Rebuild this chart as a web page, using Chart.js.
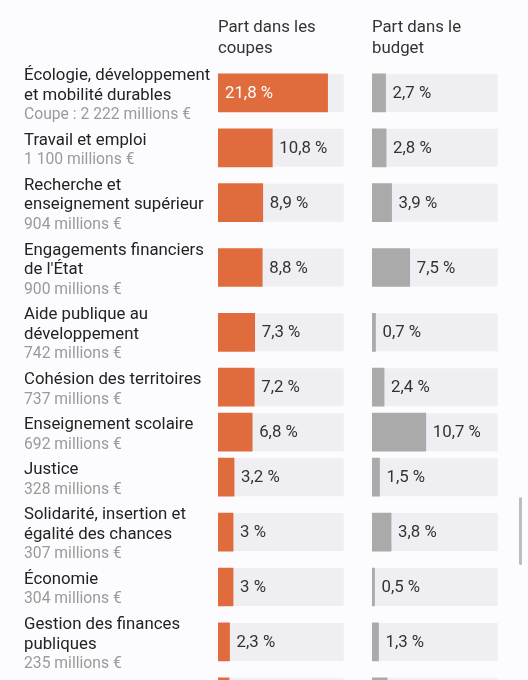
<!DOCTYPE html>
<html><head><meta charset="utf-8">
<script src="https://cdn.jsdelivr.net/npm/chart.js@4.4.1/dist/chart.umd.min.js"></script>
<style>
html,body{margin:0;padding:0;background:#fcfcfe;overflow:hidden;}
#wrap{position:relative;width:528px;height:680px;}
canvas{position:absolute;left:0;top:0;}
#sb{position:absolute;left:519px;top:497px;width:3px;height:68px;background:#bdbdbd;border-radius:2px;}
</style></head><body>
<div id="wrap"><canvas id="c1" width="528" height="680"></canvas><canvas id="c2" width="528" height="680"></canvas><div id="sb"></div></div>
<script>
const categories = [
  "Écologie, développement\net mobilité durables",
  "Travail et emploi",
  "Recherche et\nenseignement supérieur",
  "Engagements financiers\nde l'État",
  "Aide publique au\ndéveloppement",
  "Cohésion des territoires",
  "Enseignement scolaire",
  "Justice",
  "Solidarité, insertion et\négalité des chances",
  "Économie",
  "Gestion des finances\npubliques",
  "Sécurités"
];
const amounts = [
  "Coupe : 2 222 millions €", "1 100 millions €", "904 millions €", "900 millions €",
  "742 millions €", "737 millions €", "692 millions €", "328 millions €",
  "307 millions €", "304 millions €", "235 millions €", "222 millions €"
];
const shareCuts   = [21.8, 10.8, 8.9, 8.8, 7.3, 7.2, 6.8, 3.2, 3, 3, 2.3, 2.2];
const shareBudget = [2.7, 2.8, 3.9, 7.5, 0.7, 2.4, 10.7, 1.5, 3.8, 0.5, 1.3, 3];
const headers = ["Part dans les\ncoupes", "Part dans le\nbudget"];
const axisMax = 25;

const FONT = 'Roboto, "Noto Sans", sans-serif';
const MAIN = '16.8px ' + FONT, SUB = '15.7px ' + FONT;
const LINE = 19.8, TOP = 60.5, H = 680;
const rowCenters = [];
(function(){
  let acc = TOP;
  categories.forEach(c => {
    const n = c.split('\n').length + 1;
    const h = LINE * n + 5.4;
    rowCenters.push(acc + h / 2);
    acc += h;
  });
})();

const fmt = v => String(v).replace('.', ',') + ' %';

function makeChart(id, values, color, padL, padR, header, withLabels) {
  const plugins = [{
    id: 'tracks',
    beforeDatasetsDraw(chart) {
      const ctx = chart.ctx, a = chart.chartArea;
      ctx.save();
      ctx.fillStyle = '#efeff3';
      chart.getDatasetMeta(0).data.forEach(el => {
        const p = el.getProps(['y', 'height'], true);
        ctx.fillRect(a.left, p.y - p.height / 2, a.right - a.left, p.height);
      });
      ctx.restore();
    },
    afterDatasetsDraw(chart) {
      const ctx = chart.ctx;
      ctx.save();
      ctx.font = MAIN;
      ctx.textBaseline = 'middle';
      chart.getDatasetMeta(0).data.forEach((el, i) => {
        const p = el.getProps(['x', 'y', 'base'], true);
        const t = fmt(values[i]);
        const w = ctx.measureText(t).width;
        const bw = p.x - p.base;
        if (bw > w + 20) {
          ctx.fillStyle = '#ffffff';
          ctx.fillText(t, p.base + 7, p.y + 1);
        } else {
          ctx.fillStyle = '#333333';
          ctx.fillText(t, p.x + 7, p.y + 1);
        }
      });
      ctx.restore();
    },
    afterDraw(chart) {
      const ctx = chart.ctx, a = chart.chartArea;
      ctx.save();
      ctx.textBaseline = 'alphabetic';
      ctx.font = MAIN;
      ctx.fillStyle = '#333333';
      header.split('\n').forEach((l, j) => ctx.fillText(l, a.left, 32 + j * 20.5));
      if (withLabels) {
        rowCenters.forEach((c, i) => {
          const lines = categories[i].split('\n');
          const all = lines.concat([amounts[i]]);
          const n = all.length;
          all.forEach((l, j) => {
            const yb = c + (j - (n - 1) / 2) * 19.5 + 6.6;
            if (j < n - 1) { ctx.font = MAIN; ctx.fillStyle = '#222222'; }
            else { ctx.font = SUB; ctx.fillStyle = '#9a9a9a'; }
            ctx.fillText(l, 24, yb);
          });
        });
      }
      ctx.restore();
    }
  }];
  return new Chart(document.getElementById(id), {
    type: 'bar',
    data: { datasets: [{
      data: values.map((v, i) => ({ x: v, y: rowCenters[i] })),
      backgroundColor: color, borderWidth: 0, barThickness: 38
    }]},
    options: {
      indexAxis: 'y', responsive: false, animation: false, events: [],
      layout: { padding: { left: padL, right: padR, top: 0, bottom: 0 } },
      scales: {
        x: { type: 'linear', min: 0, max: axisMax, display: false },
        y: { type: 'linear', min: 0, max: H, reverse: true, display: false, offset: false }
      },
      plugins: { legend: { display: false }, tooltip: { enabled: false } }
    },
    plugins
  });
}

makeChart('c1', shareCuts, '#e06c3e', 218, 528 - 343.7, headers[0], true);
makeChart('c2', shareBudget, '#aaaaaa', 372, 528 - 497.7, headers[1], false);
</script>
</body></html>
